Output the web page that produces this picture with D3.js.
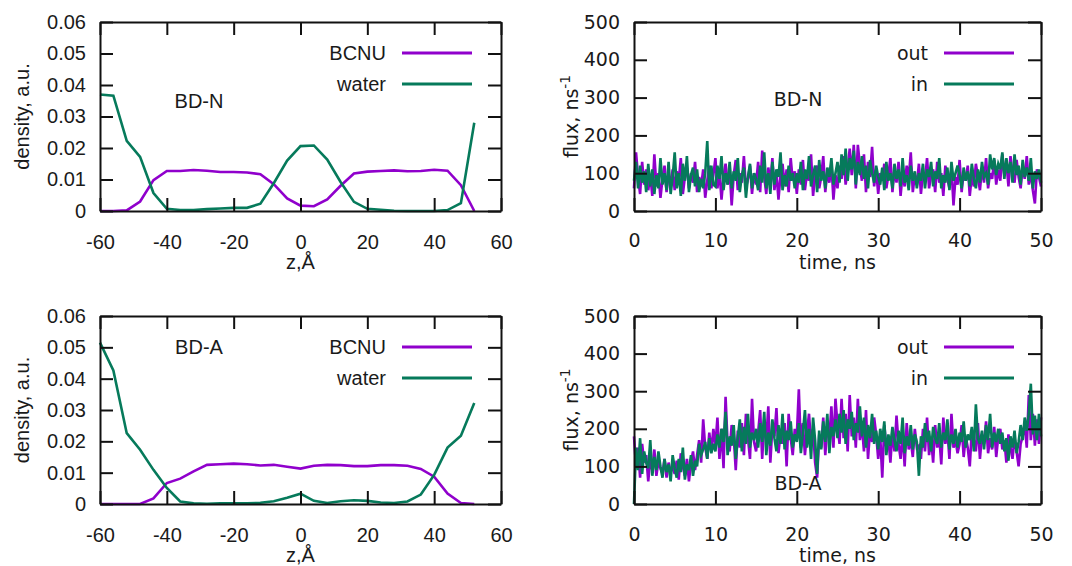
<!DOCTYPE html>
<html>
<head>
<meta charset="utf-8">
<script src="https://cdn.jsdelivr.net/npm/d3@7"></script>
<style>
  html, body { margin: 0; padding: 0; background: #ffffff; }
  svg { display: block; }
</style>
</head>
<body>
<div id="chart"></div>
<script>
// density profiles, z step 4 Å from -60 to 52
const zValues = [-60, -56, -52, -48, -44, -40, -36, -32, -28, -24, -20, -16, -12, -8, -4, 0, 4, 8, 12, 16, 20, 24, 28, 32, 36, 40, 44, 48, 52];

const bcnuN = [0, 0, 0.0002, 0.003, 0.0098, 0.0127, 0.0127, 0.013, 0.0128, 0.0124, 0.0124, 0.0122, 0.0117, 0.0085, 0.004, 0.0017, 0.0015, 0.0037, 0.008, 0.0119, 0.0125, 0.0127, 0.0129, 0.0126, 0.0127, 0.0131, 0.0128, 0.0082, 0];
const waterN = [0.037, 0.0366, 0.0223, 0.0172, 0.0057, 0.0007, 0.0003, 0.0003, 0.0006, 0.0008, 0.001, 0.001, 0.0023, 0.0088, 0.016, 0.0206, 0.0208, 0.0163, 0.0092, 0.0029, 0.0007, 0.0004, 0.0001, 0, 0, 0, 0.0003, 0.0025, 0.028];

const bcnuA = [0, 0, 0, 0, 0.0018, 0.0067, 0.0081, 0.0104, 0.0125, 0.0127, 0.0129, 0.0127, 0.0123, 0.0125, 0.0119, 0.0113, 0.0122, 0.0125, 0.0124, 0.0121, 0.0121, 0.0124, 0.0124, 0.0122, 0.0112, 0.0087, 0.0033, 0.0003, 0];
const waterA = [0.0515, 0.0426, 0.0226, 0.0173, 0.0109, 0.0051, 0.0008, 0.0002, 0.0001, 0.0002, 0.0002, 0.0002, 0.0004, 0.0009, 0.002, 0.0033, 0.001, 0.0003, 0.0009, 0.0012, 0.001, 0.0005, 0.0003, 0.0008, 0.003, 0.0093, 0.018, 0.0218, 0.0322];

// flux time series, sampled every 0.25 ns from 0 to 50
const fluxDt = 0.25;

const outN = [
  60,155,90,45,130,70,110,55,95,40,150,65,100,35,85,120,50,95,70,110,
  55,105,80,140,45,90,115,60,100,75,130,50,90,65,110,35,80,120,60,95,
  140,60,105,30,90,125,70,110,15,95,135,55,100,75,145,60,85,120,45,100,
  70,130,50,160,90,45,115,75,140,55,100,30,95,125,65,110,50,140,80,105,
  45,110,70,135,55,100,80,150,40,95,120,60,90,145,50,105,75,125,30,95,
  60,120,85,145,70,110,165,95,175,60,175,120,80,150,50,130,90,170,65,110,
  45,100,80,125,60,95,140,50,110,75,130,40,100,65,120,85,155,50,95,70,
  125,45,100,80,140,60,95,110,50,130,75,100,40,120,85,60,115,15,90,70,
  135,50,105,80,120,40,95,65,125,90,55,115,75,140,60,100,85,135,70,110,
  80,150,95,130,65,145,100,75,135,90,60,120,85,145,70,100,55,20,110,90,65
];
const inN = [
  80,130,60,120,75,105,50,125,65,110,45,95,60,140,70,100,55,130,45,90,
  155,60,100,40,125,80,145,50,95,115,65,110,50,85,60,100,185,55,120,70,
  65,120,85,145,55,100,70,130,60,105,80,140,50,95,115,35,90,125,60,100,
  85,55,120,75,155,60,100,45,130,70,110,90,155,55,95,65,120,80,100,60,
  100,75,130,55,110,85,145,65,95,120,50,135,80,105,60,115,90,140,70,100,
  130,75,150,95,165,80,140,110,160,70,130,95,145,85,120,60,135,100,75,120,
  90,70,115,55,130,80,100,60,125,85,110,65,140,75,95,55,120,80,105,60,
  100,80,125,60,110,90,130,65,105,85,140,60,95,75,115,55,130,80,100,120,
  95,60,115,80,105,65,125,85,60,110,75,130,90,100,70,150,110,140,95,125,
  110,155,85,140,100,130,75,150,95,120,70,135,90,115,80,140,60,105,85,110,75
];

const outA = [
  180,100,150,70,160,110,130,60,120,90,145,75,115,95,80,120,70,110,85,100,
  80,115,65,135,100,75,120,60,110,140,90,130,170,110,225,150,120,190,140,200,
  155,230,120,200,95,285,160,140,210,180,90,195,150,215,130,240,175,120,280,165,
  140,190,250,120,225,170,260,110,205,180,255,135,190,160,215,100,240,175,130,200,
  180,305,150,215,130,190,240,160,200,110,70,185,150,230,130,210,175,260,150,280,
  210,160,280,175,240,140,290,180,230,150,280,170,210,140,250,120,200,165,230,185,
  120,180,70,210,150,175,110,195,140,235,160,120,190,100,215,145,170,125,200,150,
  155,120,200,140,230,130,175,110,210,150,180,105,230,160,195,120,240,150,170,135,
  160,210,125,180,150,100,195,170,140,215,120,185,160,220,135,175,145,205,125,180,
  200,145,170,110,185,150,120,175,140,100,160,180,215,150,290,170,240,155,225,160,230
];
const inA = [
  0,150,90,175,80,140,110,95,170,75,125,90,140,100,70,120,85,105,60,130,
  95,70,120,85,150,65,105,90,130,75,115,100,160,130,145,165,120,175,135,160,
  140,185,150,200,165,245,130,180,155,210,120,175,225,140,205,160,240,150,190,170,
  200,150,215,165,245,130,190,155,225,175,140,210,160,240,145,195,170,220,150,185,
  165,215,135,190,250,150,200,120,230,170,80,195,145,220,165,240,135,205,180,225,
  175,240,190,250,160,225,200,245,170,215,190,260,180,230,150,210,175,240,160,195,
  145,200,165,220,130,185,155,205,170,140,195,160,230,135,180,155,210,145,185,165,
  75,180,150,215,165,195,140,205,175,160,215,150,190,170,225,145,185,160,200,150,
  190,165,220,150,185,170,205,140,265,175,160,195,145,210,170,240,150,190,165,200,
  160,190,140,175,115,180,150,195,135,165,210,170,230,195,240,320,185,235,170,240,180
];

const zTicks = [-60, -40, -20, 0, 20, 40, 60];
const densityTicks = [0, 0.01, 0.02, 0.03, 0.04, 0.05, 0.06];
const timeTicks = [0, 10, 20, 30, 40, 50];
const fluxTicks = [0, 100, 200, 300, 400, 500];

const densityLegend = ["BCNU", "water"];
const fluxLegend = ["out", "in"];

const PURPLE = "#9000cc";
const GREEN = "#067a5b";
const TEXT = "#1a1a1a";
const FRAME = "#111111";

const svg = d3.select("#chart")
  .append("svg")
  .attr("width", 1072)
  .attr("height", 566);

function drawPanel(opts) {
  const { box, xDomain, yDomain, xTicks, yTicks, yFormat, font, fontSize } = opts;
  const x = d3.scaleLinear().domain(xDomain).range([box.left, box.right]);
  const y = d3.scaleLinear().domain(yDomain).range([box.bottom, box.top]);
  const tick = 13;
  const lw = 2;

  const g = svg.append("g");

  const line = d3.line()
    .x((d) => x(d[0]))
    .y((d) => y(d[1]));

  opts.series.forEach((s) => {
    g.append("path")
      .datum(s.points)
      .attr("d", line)
      .style("fill", "none")
      .style("stroke", s.color)
      .style("stroke-width", s.width)
      .style("stroke-linejoin", "miter");
  });

  // gnuplot style frame: axes on all four sides, ticks pointing inward
  const styleAxis = (sel) => {
    sel.select(".domain")
      .style("stroke", FRAME)
      .style("stroke-width", `${lw}px`);
    sel.selectAll(".tick line")
      .style("stroke", FRAME)
      .style("stroke-width", `${lw}px`);
    sel.selectAll(".tick text")
      .style("fill", TEXT)
      .attr("font-family", font)
      .attr("font-size", fontSize);
  };

  g.append("g")
    .attr("transform", `translate(0,${box.bottom})`)
    .call(d3.axisBottom(x).tickValues(xTicks).tickSizeInner(-tick).tickSizeOuter(0)
      .tickPadding(opts.xPad).tickFormat((d) => String(d)))
    .call(styleAxis);

  g.append("g")
    .attr("transform", `translate(0,${box.top})`)
    .call(d3.axisTop(x).tickValues(xTicks).tickSizeInner(-tick).tickSizeOuter(0).tickFormat(""))
    .call(styleAxis);

  g.append("g")
    .attr("transform", `translate(${box.left},0)`)
    .call(d3.axisLeft(y).tickValues(yTicks).tickSizeInner(-tick).tickSizeOuter(0)
      .tickPadding(14).tickFormat(yFormat))
    .call(styleAxis);

  g.append("g")
    .attr("transform", `translate(${box.right},0)`)
    .call(d3.axisRight(y).tickValues(yTicks).tickSizeInner(-tick).tickSizeOuter(0).tickFormat(""))
    .call(styleAxis);

  const label = (sel) => sel
    .attr("font-family", font)
    .attr("font-size", fontSize)
    .style("fill", TEXT);

  // legend
  opts.legend.forEach((name, i) => {
    const ly = box.top + 31 + i * 31;
    g.append("text")
      .call(label)
      .attr("x", opts.legendX)
      .attr("y", ly)
      .attr("dy", "0.35em")
      .attr("text-anchor", "end")
      .text(name);
    g.append("line")
      .attr("x1", opts.legendX + 16)
      .attr("x2", opts.legendX + 86)
      .attr("y1", ly)
      .attr("y2", ly)
      .style("stroke", opts.series[i].color)
      .style("stroke-width", 3);
  });

  g.append("text")
    .call(label)
    .attr("x", opts.tag.x)
    .attr("y", opts.tag.y)
    .attr("dy", "0.35em")
    .attr("text-anchor", "middle")
    .text(opts.tag.text);

  g.append("text")
    .call(label)
    .attr("x", (box.left + box.right) / 2)
    .attr("y", opts.xTitleY)
    .attr("text-anchor", "middle")
    .text(opts.xTitle);

  const yt = g.append("text")
    .call(label)
    .attr("transform", `translate(${opts.yTitleX},${(box.top + box.bottom) / 2}) rotate(-90)`)
    .attr("text-anchor", "middle")
    .text(opts.yTitle);
  if (opts.yTitleSup) {
    yt.append("tspan")
      .attr("dy", "-0.55em")
      .attr("font-size", fontSize * 0.72)
      .text(opts.yTitleSup);
  }
}

const zip = (xs, ys) => ys.map((v, i) => [xs[i], v]);
const timed = (ys) => ys.map((v, i) => [i * fluxDt, v]);
const densityFormat = (d) => (d === 0 ? "0" : d3.format(".2f")(d));

const leftFont = "'Liberation Sans', Arial, sans-serif";
const rightFont = "'DejaVu Sans', sans-serif";

drawPanel({
  box: { left: 100, right: 501, top: 22, bottom: 211 },
  xDomain: [-60, 60], yDomain: [0, 0.06],
  xTicks: zTicks, yTicks: densityTicks, yFormat: densityFormat,
  font: leftFont, fontSize: 20, xPad: 24,
  series: [
    { points: zip(zValues, bcnuN), color: PURPLE, width: 2.6 },
    { points: zip(zValues, waterN), color: GREEN, width: 2.6 }
  ],
  legend: densityLegend, legendX: 386,
  tag: { text: "BD-N", x: 199, y: 101 },
  xTitle: "z,Å", xTitleY: 269,
  yTitle: "density, a.u.", yTitleX: 29
});

drawPanel({
  box: { left: 100, right: 501, top: 316, bottom: 504 },
  xDomain: [-60, 60], yDomain: [0, 0.06],
  xTicks: zTicks, yTicks: densityTicks, yFormat: densityFormat,
  font: leftFont, fontSize: 20, xPad: 24,
  series: [
    { points: zip(zValues, bcnuA), color: PURPLE, width: 2.6 },
    { points: zip(zValues, waterA), color: GREEN, width: 2.6 }
  ],
  legend: densityLegend, legendX: 386,
  tag: { text: "BD-A", x: 199, y: 347 },
  xTitle: "z,Å", xTitleY: 562,
  yTitle: "density, a.u.", yTitleX: 29
});

drawPanel({
  box: { left: 634, right: 1041, top: 22, bottom: 211 },
  xDomain: [0, 50], yDomain: [0, 500],
  xTicks: timeTicks, yTicks: fluxTicks, yFormat: (d) => String(d),
  font: rightFont, fontSize: 19, xPad: 23,
  series: [
    { points: timed(outN), color: PURPLE, width: 2.6 },
    { points: timed(inN), color: GREEN, width: 2.6 }
  ],
  legend: fluxLegend, legendX: 928,
  tag: { text: "BD-N", x: 798, y: 99 },
  xTitle: "time, ns", xTitleY: 269,
  yTitle: "flux, ns", yTitleSup: "-1", yTitleX: 578
});

drawPanel({
  box: { left: 634, right: 1041, top: 316, bottom: 504 },
  xDomain: [0, 50], yDomain: [0, 500],
  xTicks: timeTicks, yTicks: fluxTicks, yFormat: (d) => String(d),
  font: rightFont, fontSize: 19, xPad: 24,
  series: [
    { points: timed(outA), color: PURPLE, width: 2.6 },
    { points: timed(inA), color: GREEN, width: 2.6 }
  ],
  legend: fluxLegend, legendX: 928,
  tag: { text: "BD-A", x: 798, y: 483 },
  xTitle: "time, ns", xTitleY: 562,
  yTitle: "flux, ns", yTitleSup: "-1", yTitleX: 578
});
</script>
</body>
</html>
